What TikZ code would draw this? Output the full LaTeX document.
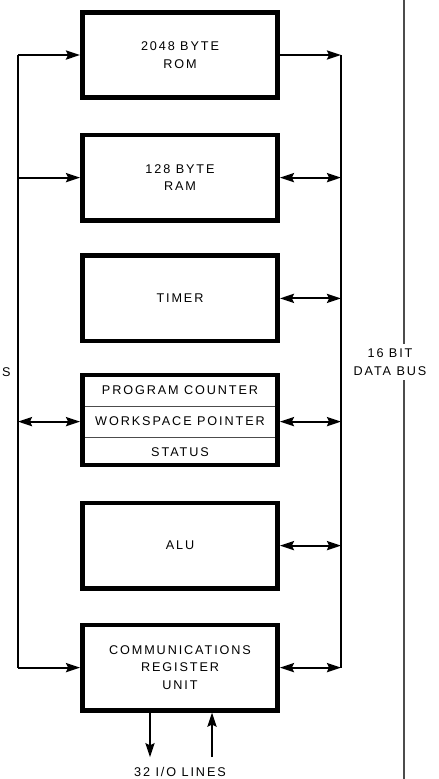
\documentclass[tikz,border=0pt]{standalone}
\usepackage{fontspec}
\newfontfamily\chipfont[LetterSpace=15]{Liberation Sans}
\usetikzlibrary{positioning, arrows.meta}

\begin{document}
\begin{tikzpicture}[
  every node/.style={font=\chipfont\fontsize{9}{12.7}\selectfont},
  unit/.style={draw, line width=3.5pt, minimum width=4.875cm, minimum height=2.13cm, align=center},
  row/.style={draw=black!70, line width=0.7pt, minimum width=4.875cm, minimum height=0.78cm},
  wire/.style={line width=1.4pt},
  tip/.style={-{Stealth[length=10pt, width=6.5pt, inset=1.5pt]}},
  both/.style={{Stealth[length=10pt, width=6.5pt, inset=1.5pt]}-{Stealth[length=10pt, width=6.5pt, inset=1.5pt]}}
]
\useasboundingbox (0,0) rectangle (10.975,-19.475);

% functional blocks
\node[unit] (rom) at (4.5,-1.375) {2048 BYTE\\ROM};
\node[unit] (ram) at (4.5,-4.44) {128 BYTE\\RAM};
\node[unit] (timer) at (4.5,-7.46) {TIMER};
\node (pcnt) at (4.5,-9.75) {PROGRAM COUNTER};
\node[row] (wp) at (4.5,-10.54) {WORKSPACE POINTER};
\node (st) at (4.5,-11.3) {STATUS};
\node[unit, minimum height=2.25cm] (pc) at (4.5,-10.5) {};
\node[unit] (alu) at (4.5,-13.64) {ALU};
\node[unit] (cru) at (4.5,-16.69) {COMMUNICATIONS\\REGISTER\\UNIT};

% bus corners
\coordinate (lt) at (0.45,-1.375);
\coordinate (lb) at (0.45,-16.69);
\coordinate (bt) at (8.525,-1.375);
\coordinate (bb) at (8.525,-16.69);

% left bus
\draw[wire] (lt) -- (lb);
\draw[wire, tip] (lt) -- (rom);
\draw[wire, tip] (lt |- ram) -- (ram);
\draw[wire, both] (lt |- wp) -- (pc.west |- wp);
\draw[wire, tip] (lb) -- (cru);
\node (adr) at (0.16,-9.3) {S};

% data bus
\draw[wire, tip] (rom) -- (bt);
\draw[wire] (bt) -- (bb);
\draw[wire, both] (ram) -- (bt |- ram);
\draw[wire, both] (timer) -- (bt |- timer);
\draw[wire, both] (pc.east |- wp) -- (bt |- wp);
\draw[wire, both] (alu) -- (bt |- alu);
\draw[wire, both] (cru) -- (bb);

% far right line and label
\node[align=center] (dbus) at (9.75,-9.05) {16 BIT\\DATA BUS};
\coordinate (rt) at (10.1,0);
\coordinate (rb) at (10.1,-19.475);
\draw[black!70, line width=0.8pt] (rt) -- (rt |- dbus.north);
\draw[black!70, line width=0.8pt] (rb |- dbus.south) -- (rb);

% i/o lines
\coordinate (out) at (3.75,-18.93);
\coordinate (in) at (5.3,-18.93);
\draw[wire, tip] (cru.south -| out) -- (out);
\draw[wire, tip] (in) -- (in |- cru.south);
\node (io) at (4.5,-19.3) {32 I/O LINES};

\end{tikzpicture}
\end{document}
